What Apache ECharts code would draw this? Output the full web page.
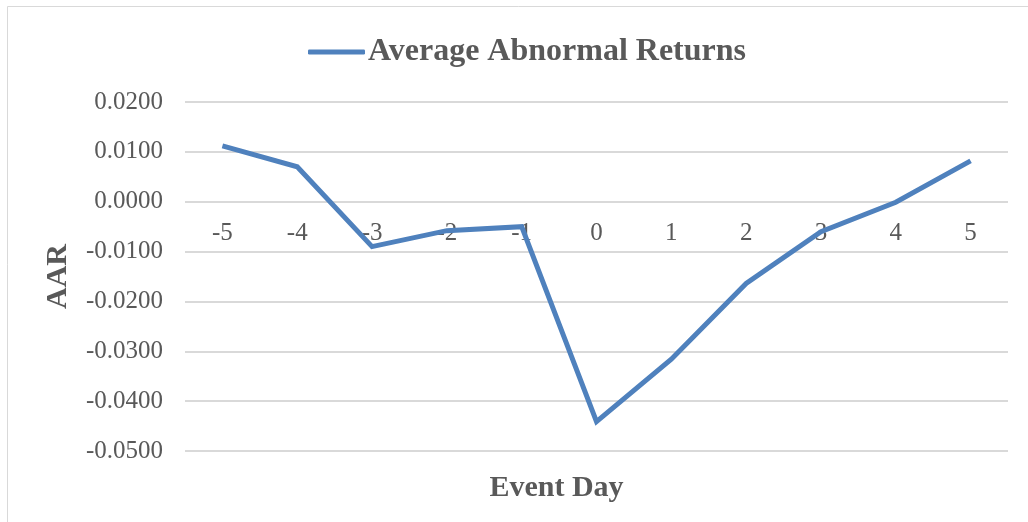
<!DOCTYPE html>
<html>
<head>
<meta charset="utf-8">
<script src="https://cdn.jsdelivr.net/npm/echarts@6/dist/echarts.min.js"></script>
<style>
  html, body { margin: 0; padding: 0; background: #fff; }
  #chart { width: 1028px; height: 522px; }
</style>
</head>
<body>
<div id="chart"></div>
<script>
const eventDays = ['-5', '-4', '-3', '-2', '-1', '0', '1', '2', '3', '4', '5']
const aar = [0.0112, 0.0070, -0.0090, -0.0058, -0.0050, -0.0441, -0.0316, -0.0164, -0.0060, -0.0001, 0.0082]
const seriesName = 'Average Abnormal Returns'

const chart = echarts.init(document.getElementById('chart'))

const serif = '"Liberation Serif", "DejaVu Serif", serif'
const textGray = '#595959'
const gridGray = '#d9d9d9'

const option = {
  backgroundColor: '#fff',
  animation: false,
  graphic: [{
    type: 'rect',
    shape: { x: 7.5, y: 6.5, width: 1040, height: 530 },
    style: { fill: 'none', stroke: gridGray, lineWidth: 1 },
    silent: true
  }],
  legend: {
    data: [seriesName],
    left: 303,
    top: 31,
    icon: 'roundRect',
    itemWidth: 57,
    itemHeight: 5,
    textStyle: {
      fontFamily: serif,
      fontWeight: 'bold',
      fontSize: 32,
      color: textGray,
      padding: [0, 0, 0, -2]
    }
  },
  grid: {
    left: 185,
    right: 20,
    top: 102,
    bottom: 71,
    containLabel: false,
    outerBoundsMode: 'none'
  },
  xAxis: {
    type: 'category',
    data: eventDays,
    boundaryGap: true,
    // category labels sit just under the zero line
    offset: -249,
    name: 'Event Day',
    nameLocation: 'middle',
    nameGap: 271,
    nameTextStyle: {
      fontFamily: serif,
      fontWeight: 'bold',
      fontSize: 30,
      color: textGray,
      padding: [0, 80, 0, 0]
    },
    axisLine: { show: false },
    axisTick: { show: false },
    axisLabel: {
      margin: 19,
      fontFamily: serif,
      fontSize: 25,
      color: textGray
    },
    splitLine: { show: false }
  },
  yAxis: {
    type: 'value',
    min: -0.05,
    max: 0.02,
    interval: 0.01,
    name: 'AAR',
    nameLocation: 'middle',
    nameGap: 112,
    nameTextStyle: {
      fontFamily: serif,
      fontWeight: 'bold',
      fontSize: 30,
      color: textGray
    },
    axisLine: { show: false },
    axisTick: { show: false },
    axisLabel: {
      margin: 22,
      fontFamily: serif,
      fontSize: 25,
      color: textGray,
      formatter: v => v.toFixed(4)
    },
    splitLine: { lineStyle: { color: gridGray, width: 2 } }
  },
  series: [{
    name: seriesName,
    type: 'line',
    data: aar,
    showSymbol: false,
    symbol: 'none',
    lineStyle: { color: '#4f81bd', width: 5, join: 'miter' },
    itemStyle: { color: '#4f81bd' }
  }]
}

chart.setOption(option)
</script>
</body>
</html>
